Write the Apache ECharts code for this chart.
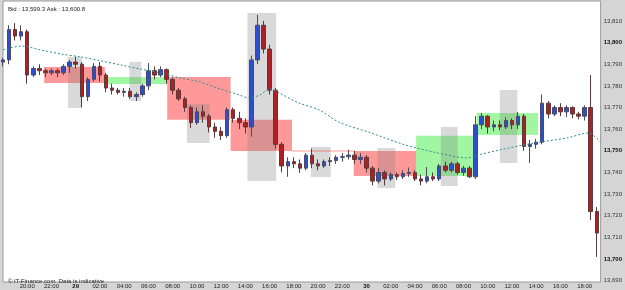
<!DOCTYPE html>
<html>
<head>
<meta charset="utf-8">
<script src="https://cdn.jsdelivr.net/npm/echarts@6/dist/echarts.min.js"></script>
<style>
  html, body { margin: 0; padding: 0; }
  #chart { width: 625px; height: 290px; }
</style>
</head>
<body>
<div id="chart"></div>
<script>
// hours counted from 28 00:00, one candle every 30 minutes
const startHour = 18;
const candleStep = 0.5;

const opens = [13791, 13792, 13806, 13803, 13805, 13785, 13788, 13787, 13786, 13787,
  13786, 13789, 13791, 13790, 13775, 13783, 13789, 13785, 13779, 13778,
  13777, 13777.5, 13775, 13776, 13780, 13787, 13785, 13787.5, 13783, 13778,
  13774, 13770, 13763, 13768, 13766, 13761, 13759, 13757, 13769, 13765,
  13763, 13761, 13792, 13808, 13797, 13778, 13753, 13743, 13745, 13744,
  13742, 13748, 13744, 13743, 13745, 13745.5, 13747, 13747.3, 13748, 13746,
  13747, 13742, 13736, 13740, 13737, 13739, 13738, 13739.5, 13740, 13737,
  13736, 13738, 13737, 13743, 13741, 13744, 13740, 13742, 13738, 13762,
  13766, 13761, 13762, 13761, 13764, 13762, 13766, 13752, 13753, 13754,
  13772, 13767, 13770, 13768, 13770, 13767, 13766, 13770, 13722];
const closes = [13792, 13806, 13803, 13805, 13785, 13788, 13787, 13786, 13787, 13786,
  13789, 13791, 13790, 13775, 13783, 13789, 13785, 13779, 13778, 13777,
  13777.5, 13775, 13776, 13780, 13787, 13785, 13787.5, 13783, 13778, 13774,
  13770, 13763, 13768, 13766, 13761, 13759, 13757, 13769, 13765, 13763,
  13761, 13792, 13808, 13797, 13778, 13753, 13743, 13745, 13744, 13742,
  13748, 13744, 13743, 13745, 13745.5, 13747, 13747.3, 13748, 13746, 13747,
  13742, 13736, 13740, 13737, 13739, 13738, 13739.5, 13740, 13737, 13736,
  13738, 13737, 13743, 13741, 13744, 13740, 13742, 13738, 13762, 13766,
  13761, 13762, 13761, 13764, 13762, 13766, 13752, 13753, 13754, 13772,
  13767, 13770, 13768, 13770, 13767, 13766, 13770, 13722, 13712];
const lows = [13789, 13790, 13801, 13801, 13781, 13784, 13785, 13784, 13785, 13784,
  13785, 13786, 13788, 13770, 13773, 13782, 13782, 13777, 13776, 13776,
  13775, 13774, 13773, 13775, 13778, 13783, 13784, 13781, 13776, 13773,
  13768, 13760.5, 13762, 13763, 13758.5, 13756, 13755, 13756, 13763, 13760,
  13758, 13756.5, 13790, 13795, 13776, 13751, 13740, 13738, 13742, 13739.8,
  13741, 13742, 13741, 13742, 13743, 13744, 13745, 13746, 13744, 13744,
  13740, 13734, 13735, 13734, 13736, 13736.5, 13737, 13738, 13736, 13734,
  13735, 13736, 13736, 13740, 13740, 13739, 13738.5, 13737.5, 13737, 13760,
  13758, 13759, 13759.5, 13760, 13760, 13760, 13750, 13744.4, 13751, 13753,
  13765, 13766, 13766, 13765.5, 13765, 13764.5, 13764, 13718, 13701];
const highs = [13793, 13808, 13809, 13808, 13806, 13789, 13790, 13788, 13788, 13788,
  13790, 13792, 13793.5, 13791, 13784, 13790.5, 13791, 13786, 13781, 13779,
  13779, 13779, 13777, 13781, 13790.5, 13789, 13789, 13788, 13784, 13779,
  13775, 13771, 13770, 13771, 13767, 13763, 13761, 13770, 13770, 13768,
  13765, 13794, 13812.8, 13810, 13799, 13779, 13754, 13747, 13747, 13746,
  13749, 13751, 13746, 13746, 13747, 13748, 13749, 13750.5, 13750, 13749,
  13748, 13743, 13742, 13741, 13740, 13740, 13741, 13742.3, 13741, 13739,
  13742.5, 13740, 13744, 13745, 13745, 13745, 13743, 13743, 13766, 13767.5,
  13766.5, 13764, 13764, 13765.5, 13765, 13768, 13767, 13755, 13755.5, 13776,
  13773, 13771, 13772, 13771, 13770.5, 13768, 13771, 13785, 13724];

// dotted moving average
const maHours = [18.0, 19.5, 21.1, 22.8, 24.4, 26.1, 27.7, 29.3, 31.0, 32.6, 34.2, 35.9,
  37.5, 38.3, 39.2, 40.0, 40.8, 42.4, 44.1, 45.7, 48.4, 51.2, 53.9, 56.3,
  57.2, 59.0, 61.8, 64.5, 66.3, 67.3];
const maValues = [13796.6, 13798.4, 13796.6, 13794.7, 13793.4, 13791.5, 13789.7, 13787.8,
  13786.0, 13783.7, 13781.9, 13778.6, 13775.8, 13774.4, 13775.8, 13778.6, 13776.7,
  13772.1, 13768.9, 13763.3, 13758.2, 13752.7, 13749.0, 13746.7, 13748.1, 13750.4,
  13753.6, 13755.9, 13758.2, 13754.1];

// zones: [fromHour, toHour, top, bottom]
const redZones = [
  [21.4, 26.4, 13788.7, 13781.3],
  [31.55, 36.78, 13784.1, 13764.3],
  [36.78, 41.85, 13764.3, 13749.9],
  [46.94, 52.09, 13749.9, 13738.4]
];
const greenZones = [
  [26.47, 31.6, 13784.1, 13780.9],
  [52.09, 57.08, 13756.9, 13738.4],
  [57.08, 62.16, 13767.5, 13757.3]
];
const greyZones = [
  [23.36, 24.5, 13793.4, 13769.8],
  [28.43, 29.41, 13791.1, 13773.0],
  [33.18, 35.06, 13771.6, 13753.6],
  [38.17, 40.55, 13813.7, 13736.1],
  [43.41, 45.05, 13751.8, 13737.9],
  [48.89, 50.37, 13751.3, 13732.8],
  [54.13, 55.52, 13761.0, 13733.8],
  [59.0, 60.44, 13778.1, 13744.4]
];
const redLevel = [41.85, 46.94, 13749.9];

const dayLabels = { 24: '29', 48: '30' };

const candles = opens.map((o, i) => [startHour + i * candleStep, o, closes[i], lows[i], highs[i]]);
const toAreas = zones => zones.map(z => [{ coord: [z[0], z[2]] }, { coord: [z[1], z[3]] }]);
const pad = n => (n < 10 ? '0' : '') + n;

const chart = echarts.init(document.getElementById('chart'));
chart.setOption({
  animation: false,
  backgroundColor: '#d5d5d5',
  textStyle: { fontFamily: 'Liberation Sans' },
  title: [
    {
      text: 'Bid : 13,599.3 Ask : 13,600.8',
      left: 3, top: 1,
      textStyle: { fontSize: 6, fontWeight: 'normal', color: '#222' }
    },
    {
      text: '\u00a9 IT-Finance.com  Data is indicative',
      left: 3, top: 273,
      textStyle: { fontSize: 6, fontWeight: 'normal', color: '#222' }
    }
  ],
  grid: {
    left: 1.5, right: 21, top: 1, bottom: 8,
    show: true, backgroundColor: '#ffffff', borderColor: '#9a9a9a', borderWidth: 1
  },
  xAxis: {
    type: 'value',
    min: 18,
    max: 67.32,
    interval: 2,
    axisLine: { show: false },
    axisTick: { show: false },
    splitLine: { show: false },
    axisLabel: {
      margin: 1,
      fontSize: 6,
      color: '#222',
      formatter: v => {
        if (v === 18 || v % 1 !== 0) return '';
        if (dayLabels[v]) return '{b|' + dayLabels[v] + '}';
        return pad(v % 24) + ':00';
      },
      rich: { b: { fontSize: 6, fontWeight: 'bold', color: '#111' } }
    }
  },
  yAxis: {
    type: 'value',
    position: 'right',
    min: 13689.4,
    max: 13819.2,
    splitNumber: 13,
    axisLine: { show: false },
    axisTick: { show: false },
    splitLine: { show: false },
    axisLabel: {
      margin: 3,
      fontSize: 6,
      color: '#333',
      formatter: v => {
        if (Math.abs(v % 10) > 0.01) return '';
        const s = echarts.format.addCommas(Math.round(v));
        return v % 50 === 0 ? '{b|' + s + '}' : s;
      },
      rich: { b: { fontSize: 6, fontWeight: 'bold', color: '#111' } }
    }
  },
  series: [
    {
      type: 'line',
      name: 'zones',
      data: [],
      silent: true,
      z: 1,
      markArea: {
        silent: true,
        data: toAreas(redZones),
        itemStyle: { color: 'rgba(255,0,0,0.4)' }
      }
    },
    {
      type: 'line',
      name: 'zones2',
      data: [],
      silent: true,
      z: 1,
      markArea: {
        silent: true,
        data: toAreas(greenZones),
        itemStyle: { color: 'rgba(20,235,20,0.4)' }
      }
    },
    {
      type: 'line',
      name: 'boxes',
      data: [],
      silent: true,
      z: 1,
      markArea: {
        silent: true,
        data: toAreas(greyZones),
        itemStyle: { color: 'rgba(128,128,128,0.3)' }
      }
    },
    {
      type: 'line',
      name: 'level',
      data: [[redLevel[0], redLevel[2]], [redLevel[1], redLevel[2]]],
      showSymbol: false,
      silent: true,
      z: 1,
      lineStyle: { color: 'rgba(255,0,0,0.4)', width: 1 }
    },
    {
      type: 'candlestick',
      name: 'price',
      data: candles,
      barWidth: 4,
      z: 3,
      itemStyle: {
        color: '#2c4fcf',
        color0: '#b01f26',
        borderColor: '#4a4a60',
        borderColor0: '#5a3a3a',
        borderWidth: 1
      }
    },
    {
      type: 'line',
      name: 'ma',
      data: maHours.map((h, i) => [h, maValues[i]]),
      smooth: 0.3,
      showSymbol: false,
      z: 4,
      lineStyle: { color: '#2f8e8e', width: 1, type: [2, 2] }
    }
  ]
});
</script>
</body>
</html>
